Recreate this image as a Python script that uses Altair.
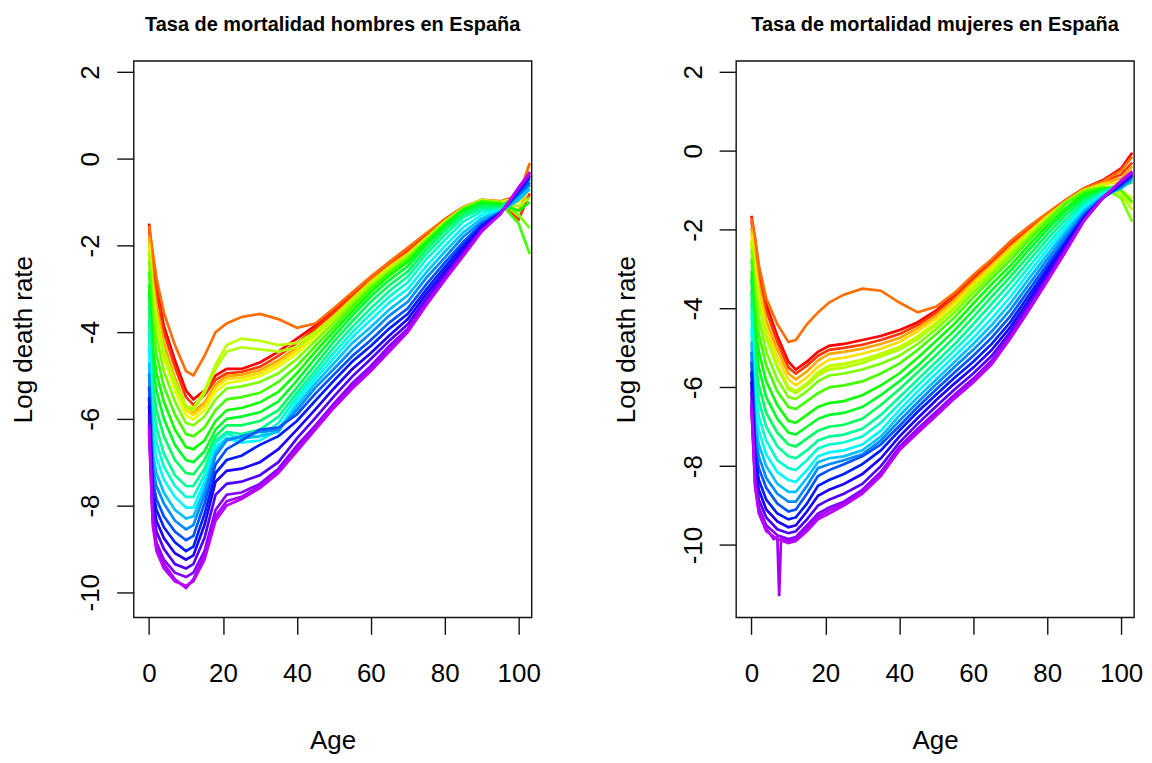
import altair as alt
import pandas as pd

FONT = "Liberation Sans, Arial, Helvetica, sans-serif"

AGES = [0, 1, 2, 4, 7, 10, 12, 15, 18, 21, 25, 30, 35, 40, 45, 50, 55, 60, 65, 70, 75, 80, 85, 90, 95, 100, 103]
YEARS = [1908, 1913, 1918, 1923, 1928, 1933, 1937, 1938, 1943, 1948, 1953, 1958, 1963,
         1968, 1973, 1978, 1983, 1988, 1993, 1998, 2003, 2008, 2013, 2016, 2018]

# ---- hombres (log death rate by age) ----
M1908 = [-1.50, -2.30, -2.95, -3.85, -4.65, -5.35, -5.55, -5.35, -5.00, -4.85, -4.85, -4.70, -4.45, -4.15, -3.85, -3.50, -3.12, -2.75, -2.42, -2.08, -1.75, -1.40, -1.12, -0.95, -1.00, -0.90, -0.30]
M1913 = [-1.62, -2.45, -3.10, -4.00, -4.80, -5.50, -5.68, -5.45, -5.10, -4.95, -4.92, -4.80, -4.55, -4.25, -3.92, -3.55, -3.16, -2.78, -2.45, -2.12, -1.80, -1.45, -1.15, -0.98, -1.02, -1.40, -0.80]
M1918 = [-1.55, -2.15, -2.75, -3.55, -4.30, -4.90, -5.00, -4.55, -4.00, -3.80, -3.65, -3.58, -3.70, -3.90, -3.80, -3.45, -3.08, -2.72, -2.38, -2.05, -1.72, -1.40, -1.12, -0.95, -0.98, -0.85, -0.10]
M1923 = [-1.80, -2.75, -3.40, -4.25, -5.05, -5.70, -5.85, -5.62, -5.20, -5.02, -4.98, -4.88, -4.65, -4.35, -4.00, -3.62, -3.22, -2.82, -2.48, -2.18, -1.82, -1.46, -1.15, -0.97, -1.00, -1.20, -0.60]
M1928 = [-1.95, -2.95, -3.60, -4.45, -5.20, -5.80, -5.92, -5.70, -5.28, -5.08, -5.05, -4.95, -4.72, -4.42, -4.05, -3.66, -3.26, -2.86, -2.51, -2.22, -1.85, -1.48, -1.16, -0.97, -1.02, -0.95, -0.40]
M1933 = [-2.10, -3.15, -3.80, -4.60, -5.35, -5.92, -6.02, -5.80, -5.38, -5.18, -5.12, -5.02, -4.80, -4.50, -4.10, -3.70, -3.28, -2.88, -2.53, -2.25, -1.86, -1.48, -1.15, -0.96, -1.00, -1.00, -0.70]
M1937 = [-2.12, -3.05, -3.65, -4.45, -5.15, -5.70, -5.75, -5.35, -4.75, -4.30, -4.15, -4.20, -4.30, -4.25, -4.00, -3.65, -3.25, -2.86, -2.52, -2.22, -1.83, -1.45, -1.13, -0.95, -1.00, -0.90, -0.50]
M1938 = [-2.18, -3.10, -3.70, -4.50, -5.20, -5.75, -5.80, -5.40, -4.85, -4.45, -4.35, -4.40, -4.45, -4.35, -4.05, -3.68, -3.27, -2.88, -2.54, -2.24, -1.85, -1.46, -1.14, -0.96, -1.02, -1.10, -0.90]
M1943 = [-2.35, -3.50, -4.10, -4.90, -5.60, -6.10, -6.15, -5.95, -5.55, -5.30, -5.25, -5.15, -4.95, -4.62, -4.20, -3.78, -3.35, -2.95, -2.60, -2.28, -1.88, -1.50, -1.18, -1.00, -1.00, -1.30, -1.60]
M1948 = [-2.60, -3.90, -4.50, -5.25, -5.90, -6.35, -6.40, -6.20, -5.80, -5.55, -5.50, -5.40, -5.15, -4.78, -4.32, -3.88, -3.42, -3.00, -2.64, -2.32, -1.90, -1.50, -1.16, -0.98, -1.02, -1.50, -2.20]
M1953 = [-2.90, -4.35, -4.95, -5.60, -6.25, -6.65, -6.70, -6.50, -6.05, -5.80, -5.75, -5.62, -5.38, -4.95, -4.45, -3.98, -3.52, -3.08, -2.70, -2.38, -1.94, -1.52, -1.18, -1.02, -1.05, -1.20, -1.00]
M1958 = [-3.10, -4.75, -5.35, -6.00, -6.60, -6.95, -7.00, -6.75, -6.25, -6.00, -5.95, -5.85, -5.60, -5.12, -4.60, -4.10, -3.62, -3.18, -2.80, -2.48, -2.00, -1.58, -1.22, -1.05, -1.08, -0.90, -0.60]
M1963 = [-3.40, -5.20, -5.80, -6.40, -6.95, -7.25, -7.28, -6.95, -6.40, -6.15, -6.15, -6.05, -5.80, -5.28, -4.75, -4.22, -3.75, -3.30, -2.92, -2.60, -2.10, -1.66, -1.28, -1.10, -1.12, -0.85, -0.50]
M1968 = [-3.70, -5.60, -6.20, -6.80, -7.30, -7.55, -7.55, -7.15, -6.50, -6.30, -6.35, -6.25, -5.95, -5.40, -4.88, -4.35, -3.88, -3.45, -3.05, -2.72, -2.20, -1.76, -1.35, -1.16, -1.15, -0.85, -0.55]
M1973 = [-4.00, -6.00, -6.55, -7.10, -7.55, -7.80, -7.80, -7.30, -6.55, -6.35, -6.45, -6.40, -6.10, -5.50, -4.98, -4.48, -4.00, -3.58, -3.18, -2.85, -2.32, -1.88, -1.45, -1.22, -1.18, -0.80, -0.50]
M1978 = [-4.35, -6.40, -6.90, -7.40, -7.80, -8.05, -8.05, -7.45, -6.65, -6.45, -6.55, -6.50, -6.25, -5.60, -5.08, -4.60, -4.12, -3.72, -3.32, -3.00, -2.48, -2.02, -1.58, -1.30, -1.20, -0.90, -0.60]
M1983 = [-4.70, -6.80, -7.25, -7.70, -8.10, -8.30, -8.25, -7.60, -6.75, -6.45, -6.45, -6.40, -6.30, -5.70, -5.18, -4.72, -4.25, -3.88, -3.48, -3.15, -2.62, -2.15, -1.70, -1.38, -1.22, -0.95, -0.70]
M1988 = [-4.95, -7.10, -7.55, -7.95, -8.35, -8.55, -8.45, -7.75, -6.85, -6.50, -6.40, -6.30, -6.25, -5.80, -5.28, -4.85, -4.40, -4.02, -3.62, -3.30, -2.75, -2.28, -1.80, -1.45, -1.24, -0.85, -0.60]
M1993 = [-5.25, -7.40, -7.85, -8.25, -8.60, -8.80, -8.70, -7.95, -7.05, -6.70, -6.50, -6.25, -6.20, -5.90, -5.42, -4.98, -4.55, -4.18, -3.78, -3.45, -2.90, -2.40, -1.92, -1.50, -1.25, -0.80, -0.55]
M1998 = [-5.50, -7.65, -8.10, -8.50, -8.85, -9.05, -8.95, -8.20, -7.25, -6.95, -6.85, -6.60, -6.40, -6.05, -5.58, -5.12, -4.68, -4.32, -3.92, -3.58, -3.02, -2.50, -2.00, -1.55, -1.25, -0.75, -0.45]
M2003 = [-5.70, -7.85, -8.35, -8.75, -9.10, -9.25, -9.15, -8.45, -7.45, -7.20, -7.15, -7.00, -6.70, -6.25, -5.78, -5.30, -4.85, -4.48, -4.08, -3.70, -3.12, -2.60, -2.08, -1.58, -1.26, -0.72, -0.40]
M2008 = [-5.90, -8.05, -8.60, -9.00, -9.35, -9.45, -9.35, -8.75, -7.75, -7.50, -7.45, -7.30, -7.00, -6.45, -5.98, -5.48, -5.02, -4.62, -4.20, -3.82, -3.22, -2.68, -2.15, -1.62, -1.27, -0.70, -0.38]
M2013 = [-6.10, -8.25, -8.85, -9.25, -9.55, -9.65, -9.55, -9.05, -8.10, -7.75, -7.70, -7.50, -7.15, -6.62, -6.15, -5.65, -5.18, -4.78, -4.32, -3.92, -3.30, -2.75, -2.20, -1.65, -1.28, -0.68, -0.35]
M2016 = [-6.20, -8.35, -8.95, -9.35, -9.70, -9.90, -9.70, -9.15, -8.25, -7.90, -7.80, -7.55, -7.20, -6.70, -6.20, -5.70, -5.25, -4.85, -4.40, -3.96, -3.35, -2.78, -2.23, -1.67, -1.28, -0.67, -0.33]
M2018 = [-6.30, -8.45, -9.05, -9.45, -9.75, -9.85, -9.75, -9.25, -8.35, -8.00, -7.85, -7.60, -7.25, -6.75, -6.25, -5.75, -5.30, -4.90, -4.45, -4.00, -3.38, -2.80, -2.25, -1.68, -1.28, -0.66, -0.32]

# ---- mujeres (log death rate by age) ----
F1908 = [-1.65, -2.25, -3.00, -3.90, -4.70, -5.35, -5.55, -5.35, -5.10, -4.95, -4.90, -4.80, -4.70, -4.55, -4.35, -4.05, -3.65, -3.20, -2.80, -2.35, -1.95, -1.60, -1.25, -0.95, -0.75, -0.45, -0.05]
F1913 = [-1.78, -2.45, -3.15, -4.05, -4.85, -5.50, -5.65, -5.45, -5.20, -5.05, -5.00, -4.92, -4.80, -4.65, -4.42, -4.10, -3.70, -3.25, -2.85, -2.40, -2.00, -1.62, -1.28, -0.98, -0.80, -0.60, -0.30]
F1918 = [-1.70, -2.25, -2.90, -3.75, -4.40, -4.85, -4.80, -4.40, -4.10, -3.85, -3.65, -3.50, -3.55, -3.85, -4.10, -3.95, -3.60, -3.15, -2.75, -2.30, -1.92, -1.58, -1.25, -0.95, -0.78, -0.50, -0.15]
F1923 = [-1.95, -2.75, -3.40, -4.30, -5.05, -5.65, -5.80, -5.60, -5.32, -5.15, -5.10, -5.02, -4.90, -4.75, -4.50, -4.18, -3.78, -3.32, -2.90, -2.45, -2.05, -1.65, -1.30, -1.00, -0.82, -0.70, -0.40]
F1928 = [-2.10, -2.95, -3.60, -4.50, -5.25, -5.80, -5.95, -5.75, -5.48, -5.30, -5.25, -5.15, -5.02, -4.85, -4.58, -4.25, -3.85, -3.38, -2.95, -2.50, -2.08, -1.68, -1.30, -1.00, -0.85, -0.80, -0.60]
F1933 = [-2.25, -3.15, -3.80, -4.70, -5.45, -6.00, -6.10, -5.90, -5.65, -5.48, -5.42, -5.30, -5.15, -4.98, -4.70, -4.35, -3.95, -3.45, -3.02, -2.56, -2.12, -1.70, -1.30, -1.00, -0.88, -1.00, -1.20]
F1937 = [-2.28, -3.15, -3.80, -4.70, -5.45, -6.00, -6.10, -5.90, -5.62, -5.45, -5.40, -5.30, -5.15, -4.98, -4.72, -4.37, -3.96, -3.46, -3.03, -2.57, -2.13, -1.71, -1.30, -1.00, -0.89, -1.05, -1.35]
F1938 = [-2.35, -3.20, -3.85, -4.75, -5.50, -6.05, -6.15, -5.95, -5.70, -5.55, -5.50, -5.38, -5.22, -5.05, -4.78, -4.42, -4.00, -3.50, -3.06, -2.60, -2.15, -1.72, -1.30, -1.00, -0.90, -1.10, -1.50]
F1943 = [-2.50, -3.60, -4.25, -5.10, -5.80, -6.25, -6.30, -6.10, -5.85, -5.70, -5.65, -5.55, -5.40, -5.20, -4.90, -4.52, -4.10, -3.60, -3.14, -2.68, -2.20, -1.74, -1.30, -1.02, -0.92, -1.20, -1.80]
F1948 = [-2.75, -4.00, -4.65, -5.45, -6.10, -6.50, -6.55, -6.35, -6.15, -6.00, -5.95, -5.85, -5.65, -5.40, -5.05, -4.65, -4.22, -3.72, -3.24, -2.78, -2.28, -1.80, -1.35, -1.05, -0.95, -1.00, -1.30]
F1953 = [-3.05, -4.45, -5.10, -5.85, -6.45, -6.85, -6.90, -6.70, -6.50, -6.40, -6.35, -6.20, -5.95, -5.65, -5.25, -4.82, -4.38, -3.88, -3.38, -2.92, -2.40, -1.90, -1.45, -1.10, -0.98, -0.90, -0.80]
F1958 = [-3.25, -4.85, -5.50, -6.25, -6.80, -7.15, -7.20, -7.00, -6.80, -6.70, -6.65, -6.50, -6.20, -5.85, -5.45, -5.00, -4.55, -4.05, -3.54, -3.05, -2.52, -2.00, -1.53, -1.17, -1.00, -0.85, -0.70]
F1963 = [-3.55, -5.30, -5.95, -6.65, -7.15, -7.45, -7.50, -7.30, -7.10, -7.00, -6.95, -6.80, -6.45, -6.05, -5.62, -5.18, -4.72, -4.22, -3.70, -3.20, -2.66, -2.12, -1.63, -1.24, -1.02, -0.85, -0.65]
F1968 = [-3.85, -5.70, -6.35, -7.00, -7.50, -7.75, -7.80, -7.60, -7.35, -7.25, -7.20, -7.05, -6.70, -6.25, -5.80, -5.35, -4.90, -4.40, -3.88, -3.36, -2.80, -2.25, -1.74, -1.31, -1.05, -0.85, -0.65]
F1973 = [-4.15, -6.10, -6.75, -7.35, -7.85, -8.05, -8.10, -7.85, -7.55, -7.45, -7.40, -7.25, -6.90, -6.42, -5.95, -5.50, -5.05, -4.58, -4.06, -3.53, -2.95, -2.38, -1.85, -1.38, -1.08, -0.90, -0.70]
F1978 = [-4.50, -6.50, -7.10, -7.70, -8.15, -8.35, -8.40, -8.10, -7.75, -7.65, -7.60, -7.45, -7.10, -6.58, -6.10, -5.65, -5.20, -4.75, -4.25, -3.71, -3.10, -2.51, -1.95, -1.45, -1.12, -0.90, -0.75]
F1983 = [-4.85, -6.90, -7.45, -8.00, -8.45, -8.65, -8.65, -8.30, -7.90, -7.80, -7.75, -7.60, -7.25, -6.72, -6.25, -5.80, -5.35, -4.90, -4.42, -3.88, -3.25, -2.64, -2.05, -1.52, -1.15, -0.95, -0.75]
F1988 = [-5.10, -7.20, -7.75, -8.30, -8.70, -8.90, -8.90, -8.50, -8.05, -7.95, -7.85, -7.70, -7.35, -6.85, -6.38, -5.92, -5.48, -5.05, -4.58, -4.04, -3.40, -2.76, -2.15, -1.58, -1.18, -0.92, -0.70]
F1993 = [-5.35, -7.50, -8.05, -8.55, -8.95, -9.15, -9.10, -8.70, -8.25, -8.10, -7.95, -7.75, -7.45, -6.98, -6.50, -6.05, -5.62, -5.20, -4.74, -4.20, -3.54, -2.88, -2.25, -1.63, -1.20, -0.88, -0.65]
F1998 = [-5.60, -7.75, -8.35, -8.85, -9.20, -9.35, -9.30, -8.95, -8.50, -8.35, -8.20, -7.95, -7.60, -7.10, -6.62, -6.18, -5.75, -5.35, -4.90, -4.35, -3.67, -2.99, -2.33, -1.68, -1.20, -0.85, -0.62]
F2003 = [-5.85, -8.00, -8.60, -9.10, -9.40, -9.55, -9.50, -9.15, -8.75, -8.60, -8.45, -8.20, -7.80, -7.25, -6.78, -6.32, -5.90, -5.50, -5.05, -4.48, -3.79, -3.09, -2.40, -1.71, -1.20, -0.82, -0.60]
F2008 = [-6.10, -8.20, -8.85, -9.30, -9.60, -9.70, -9.65, -9.35, -9.00, -8.85, -8.70, -8.45, -8.00, -7.40, -6.92, -6.48, -6.05, -5.65, -5.20, -4.60, -3.90, -3.18, -2.46, -1.74, -1.20, -0.80, -0.58]
F2013 = [-6.35, -8.40, -9.05, -9.50, -9.75, -9.85, -9.80, -9.50, -9.20, -9.05, -8.90, -8.60, -8.15, -7.52, -7.05, -6.62, -6.18, -5.78, -5.32, -4.69, -3.99, -3.26, -2.51, -1.76, -1.20, -0.78, -0.55]
F2016 = [-6.45, -8.48, -9.12, -9.58, -9.80, -9.90, -9.85, -9.58, -9.28, -9.12, -8.95, -8.65, -8.20, -7.56, -7.10, -6.67, -6.23, -5.83, -5.37, -4.73, -4.03, -3.29, -2.54, -1.77, -1.20, -0.77, -0.53]
F2018 = [-6.55, -8.55, -9.20, -9.65, -9.85, -9.95, -9.90, -9.65, -9.35, -9.20, -9.00, -8.70, -8.25, -7.60, -7.15, -6.72, -6.28, -5.88, -5.42, -4.77, -4.06, -3.32, -2.56, -1.77, -1.20, -0.76, -0.52]

# isolated low value (spike) in one female curve around age 7
F2016_SPIKE_AGES = [6, 8, 7.5]
F2016_SPIKE_VALS = [-9.85, -9.85, -11.3]

MALE = [M1908, M1913, M1918, M1923, M1928, M1933, M1937, M1938, M1943, M1948, M1953, M1958, M1963,
        M1968, M1973, M1978, M1983, M1988, M1993, M1998, M2003, M2008, M2013, M2016, M2018]
FEMALE = [F1908, F1913, F1918, F1923, F1928, F1933, F1937, F1938, F1943, F1948, F1953, F1958, F1963,
          F1968, F1973, F1978, F1983, F1988, F1993, F1998, F2003, F2008, F2013, F2016, F2018]

# rainbow palette (red -> purple) over the years
COLOR_DOMAIN = [1908, 1931.1, 1954.3, 1977.4, 2000.5, 2018]
COLOR_RANGE = ["#FF0000", "#FFFF00", "#00FF00", "#00FFFF", "#0000FF", "#BA00FF"]


def build(table, extra=None):
    rows = []
    for year, vals in zip(YEARS, table):
        for a, v in zip(AGES, vals):
            rows.append({"year": year, "age": a, "rate": v})
    if extra:
        year, ages, vals = extra
        for a, v in zip(ages, vals):
            rows.append({"year": year, "age": a, "rate": v})
    df = pd.DataFrame(rows).sort_values(["year", "age"]).reset_index(drop=True)
    return df


male_df = build(MALE)
female_df = build(FEMALE, (2016, F2016_SPIKE_AGES, F2016_SPIKE_VALS))

W, H = 399, 558


def panel(df, title, ydom):
    x_axis = alt.Axis(
        values=[0, 20, 40, 60, 80, 100], title="Age", domain=False, grid=False,
        tickSize=17, tickWidth=1.4, tickColor="#111",
        labelFont=FONT, labelFontSize=26, labelColor="#000", labelPadding=47,
        labelBaseline="alphabetic", labelAlign="center", labelFlush=False, labelOverlap=False,
        labelExpr="datum.value + ''",
        titleFont=FONT, titleFontSize=26, titleFontWeight="normal", titleColor="#000",
        titleX=W / 2, titleY=131, titleBaseline="alphabetic", titleAlign="center",
    )
    y_axis = alt.Axis(
        values=[2, 0, -2, -4, -6, -8, -10], title="Log death rate", domain=False, grid=False,
        tickSize=17, tickWidth=1.4, tickColor="#111",
        labelFont=FONT, labelFontSize=26, labelColor="#000", labelPadding=18,
        labelAngle=270, labelAlign="center", labelBaseline="alphabetic",
        labelFlush=False, labelOverlap=False, labelExpr="datum.value + ''",
        titleFont=FONT, titleFontSize=26, titleFontWeight="normal", titleColor="#000",
        titleAngle=270, titleX=-102, titleY=H / 2, titleBaseline="alphabetic", titleAlign="center",
    )
    return alt.Chart(df).mark_line(strokeWidth=2.7, clip=True).encode(
        x=alt.X("age:Q", scale=alt.Scale(domain=[-4.16, 103.5], nice=False, zero=False), axis=x_axis),
        y=alt.Y("rate:Q", scale=alt.Scale(domain=ydom, nice=False, zero=False), axis=y_axis),
        color=alt.Color("year:Q", scale=alt.Scale(domain=COLOR_DOMAIN, range=COLOR_RANGE, interpolate="rgb"), legend=None),
        detail="year:N",
        order=alt.Order("age:Q"),
    ).properties(
        width=W, height=H,
        title=alt.Title(text=title, font=FONT, fontSize=20, fontWeight="bold", color="#000",
                        anchor="middle", frame="group", offset=10, baseline="alphabetic"),
    )


left = panel(male_df, "Tasa de mortalidad hombres en España", [-10.58, 2.257])
right = panel(female_df, "Tasa de mortalidad mujeres en España", [-11.835, 2.28])

chart = alt.hconcat(left, right, spacing=205, bounds="flush").properties(
    padding={"left": 2, "top": 5, "right": 0, "bottom": 0},
    background="white",
).configure_view(stroke="#111", strokeWidth=1.4)

chart.save("out.html", embed_options={"renderer": "svg", "actions": False})
